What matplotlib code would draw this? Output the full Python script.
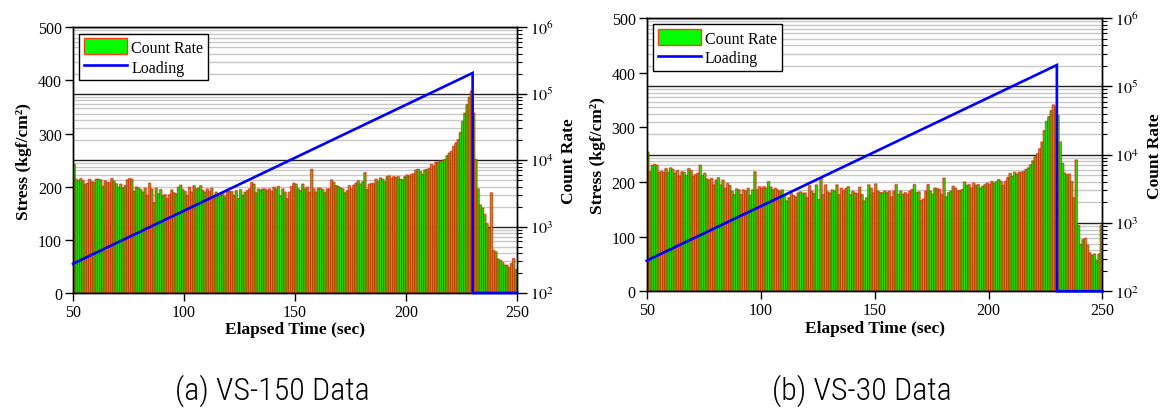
import numpy as np
import matplotlib
matplotlib.use('Agg')
import matplotlib.pyplot as plt
from matplotlib.patches import Patch
from matplotlib.lines import Line2D
from matplotlib import font_manager as fm
from matplotlib.ticker import LogLocator, NullFormatter, FixedLocator

plt.rcParams['font.family'] = ['Liberation Serif', 'DejaVu Serif']
plt.rcParams['mathtext.fontset'] = 'stix'

# ---------------- data ----------------
bin_start = np.arange(50, 250)          # 1-second bins, 50..249 s

left_counts = [
    8500, 5060, 4780, 5180, 4780, 4250, 4400, 5060, 4600, 4510,
    5060, 5060, 4940, 3930, 4780, 4510, 4510, 5180, 4720, 4300,
    3800, 4250, 3710, 4020, 4940, 5180, 5060, 3300, 3840, 3750,
    3500, 3190, 3670, 2840, 4400, 3580, 2200, 3670, 3010, 3500,
    2840, 2910, 2530, 2910, 3460, 3120, 3010, 3800, 4110, 3500,
    3270, 2840, 3800, 3190, 4020, 3580, 3670, 4020, 3400, 3190,
    3580, 3270, 3670, 2840, 3190, 2780, 2910, 3010, 2690, 3270,
    3270, 3270, 2840, 3380, 2530, 3500, 2840, 3190, 3380, 3580,
    4510, 4250, 3120, 3580, 3450, 3580, 3580, 3380, 3580, 3270,
    3800, 3580, 3930, 2780, 3580, 3190, 2530, 3190, 3930, 4400,
    4250, 3580, 3380, 4250, 3580, 3800, 3190, 7160, 3580, 3190,
    3670, 3670, 3500, 3120, 3580, 3580, 4940, 4510, 4020, 3930,
    3700, 3580, 3120, 3380, 4020, 3580, 4110, 4400, 4780, 4250,
    4620, 6380, 3500, 4250, 4350, 4350, 5060, 4620, 5300, 5060,
    4620, 5550, 5680, 5180, 5550, 5360, 5550, 5060, 4940, 5550,
    5880, 5680, 6010, 6150, 7000, 7160, 6600, 6010, 7000, 7160,
    7330, 8500, 8040, 9230, 9230, 9560, 9780, 10100, 11600, 12700,
    13500, 16100, 18000, 20200, 26100, 38100, 50900, 67900, 88600, 110000,
    51000, 10100, 3580, 2010, 1790, 1420, 1010, 846, 3120, 336,
    317, 224, 212, 189, 162, 162, 141, 178, 230, 126,
]

right_counts = [
    10800, 5510, 6900, 7100, 6900, 5400, 5600, 5400, 6170, 5400,
    6300, 6000, 5250, 5750, 4750, 5510, 5400, 4850, 6170, 5750,
    4750, 5060, 5250, 6900, 4850, 5250, 4300, 4150, 4400, 3510,
    4150, 4500, 3510, 4150, 3130, 3700, 3420, 2800, 2500, 3050,
    2950, 2500, 2950, 2800, 3130, 2430, 2950, 5510, 2950, 3300,
    3130, 3300, 3130, 3930, 3250, 2950, 3130, 2950, 2800, 2950,
    2500, 2000, 2240, 2600, 2430, 2300, 2650, 2750, 2620, 2650,
    2240, 3420, 2800, 2600, 3510, 2100, 4400, 2500, 3510, 2750,
    2650, 2950, 2800, 3510, 2500, 3130, 2850, 3130, 3300, 2500,
    2800, 2650, 2600, 3250, 2500, 2000, 2240, 3510, 3130, 2650,
    3630, 2820, 2680, 2680, 2820, 2680, 2820, 2310, 2820, 3550,
    2530, 2820, 2530, 2680, 2530, 2820, 2990, 3550, 2680, 2750,
    2020, 2140, 2820, 3550, 2820, 2530, 3150, 3090, 2990, 2530,
    4440, 2310, 2680, 2820, 3350, 3150, 2820, 2880, 2990, 3880,
    3450, 3550, 3150, 3730, 3450, 3550, 3150, 3350, 3550, 3730,
    3550, 3960, 3730, 3960, 4230, 3960, 3450, 3960, 4530, 5210,
    4680, 5430, 5050, 5430, 5430, 5560, 5970, 6300, 7000, 8000,
    9200, 10200, 12100, 15200, 22300, 30600, 35800, 44200, 53400, 49900,
    37300, 15200, 7360, 5250, 5000, 5100, 3960, 2240, 8240, 820,
    380, 468, 494, 373, 266, 238, 252, 180, 252, 820,
]

load_time = [50, 230, 230, 250]
left_stress = [55, 414, 0, 0]
right_stress = [56, 414, 0, 0]

panels = [
    dict(counts=left_counts, stress=left_stress, caption='(a) VS-150 Data',
         rect=[0.0627, 0.2899, 0.3811, 0.6418], cap_x=0.234),
    dict(counts=right_counts, stress=right_stress, caption='(b) VS-30 Data',
         rect=[0.5551, 0.2940, 0.3912, 0.6600], cap_x=0.740),
]

x_ticks = [50, 100, 150, 200, 250]
stress_ticks = [0, 100, 200, 300, 400, 500]
count_ticks = [1e2, 1e3, 1e4, 1e5, 1e6]
count_labels = [r'$10^{2}$', r'$10^{3}$', r'$10^{4}$', r'$10^{5}$', r'$10^{6}$']


def pick_font(names):
    for n in names:
        try:
            fm.findfont(fm.FontProperties(family=n), fallback_to_default=False)
            return n
        except Exception:
            pass
    return 'DejaVu Sans'


cap_font = pick_font(['Liberation Sans Narrow', 'Roboto Condensed',
                      'DejaVu Sans Condensed', 'Open Sans Condensed', 'Roboto'])

fig = plt.figure(figsize=(11.65, 4.14), dpi=100)

TICK_FS = 11.5
LAB_FS = 12.5

for p in panels:
    ax = fig.add_axes(p['rect'])          # stress axis (left), on top
    axc = ax.twinx()                      # count rate axis (right), below
    ax.set_zorder(axc.get_zorder() + 1)
    ax.patch.set_visible(False)

    # count-rate bars
    axc.set_yscale('log')
    axc.set_ylim(1e2, 1e6)
    bars = axc.bar(bin_start, p['counts'], width=1.0, align='edge', bottom=1e2,
                   color='#00ff00', edgecolor=(1.0, 0.0, 0.0, 0.6),
                   linewidth=1.0, zorder=2)
    for b in bars:
        b.set_snap(False)
    axc.set_axisbelow(True)
    axc.yaxis.set_major_locator(FixedLocator(count_ticks))
    axc.set_yticklabels(count_labels)
    axc.yaxis.set_minor_locator(LogLocator(base=10, subs=np.arange(2, 10)))
    axc.yaxis.set_minor_formatter(NullFormatter())
    axc.grid(True, which='major', axis='y', color='#222222', lw=1.0)
    axc.grid(True, which='minor', axis='y', color='#c8c8c8', lw=1.0)
    axc.grid(True, which='major', axis='x', color='#333333', lw=1.0)
    axc.tick_params(axis='y', which='major', direction='out', length=7,
                    width=1, labelsize=TICK_FS, pad=2)
    axc.tick_params(axis='y', which='minor', direction='out', length=3.5, width=0.8)
    axc.set_ylabel('Count Rate', fontsize=LAB_FS, fontweight='bold', labelpad=6)

    # loading line
    ax.plot(load_time, p['stress'], color='#0000ff', lw=1.9, zorder=5,
            clip_on=False, solid_joinstyle='miter')
    ax.set_xlim(50, 250)
    ax.set_ylim(0, 500)
    ax.set_xticks(x_ticks)
    ax.set_yticks(stress_ticks)
    axc.set_xticks(x_ticks)
    ax.tick_params(axis='both', direction='out', length=6, width=1,
                   labelsize=TICK_FS, pad=2)
    ax.set_xlabel('Elapsed Time (sec)', fontsize=LAB_FS, fontweight='bold', labelpad=1)
    ax.set_ylabel('Stress (kgf/cm²)', fontsize=LAB_FS, fontweight='bold', labelpad=4)
    for s in ax.spines.values():
        s.set_linewidth(1.0)
    for s in axc.spines.values():
        s.set_linewidth(1.0)

    handles = [Patch(facecolor='#00ff00', edgecolor='#ff3b1a', lw=1.0),
               Line2D([0], [0], color='#0000ff', lw=1.9)]
    leg = ax.legend(handles, ['Count Rate', 'Loading'], loc='upper left',
                    fontsize=TICK_FS, frameon=True, fancybox=False,
                    edgecolor='black', framealpha=1, borderaxespad=0.4,
                    handlelength=2.7, handleheight=1.15, handletextpad=0.25,
                    labelspacing=0.15, borderpad=0.3)
    leg.get_frame().set_linewidth(1.0)

    fig.text(p['cap_x'], 0.055, p['caption'], ha='center', va='center',
             fontsize=23, family=[cap_font, 'DejaVu Sans'], fontweight='light',
             fontstretch='condensed')

fig.savefig('out.png', dpi=100)
